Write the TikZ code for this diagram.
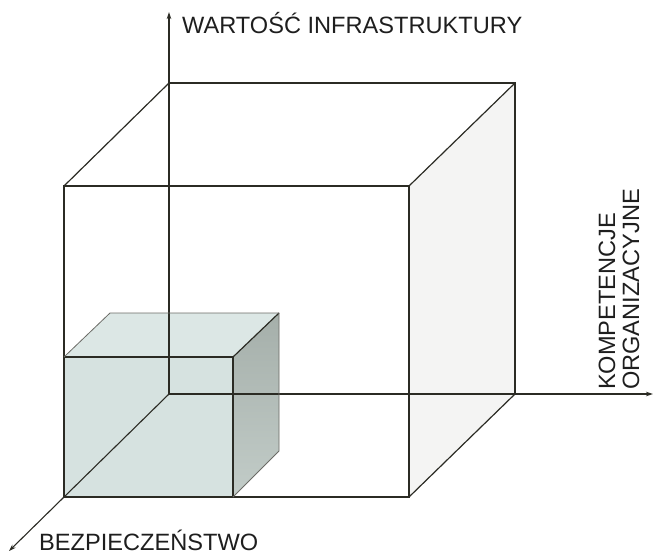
\documentclass[tikz,border=0pt]{standalone}
\usepackage{fontspec}
\setmainfont{Liberation Sans}
\usetikzlibrary{arrows.meta}
\definecolor{inkline}{HTML}{2B2B24}
\definecolor{inktext}{HTML}{1E1E1E}
\definecolor{cubefront}{HTML}{D6E2E0}
\definecolor{cubetop}{HTML}{DCE7E5}
\definecolor{cubesideA}{HTML}{A5AFAA}
\definecolor{cubesideB}{HTML}{C2CCC8}
\definecolor{bigside}{HTML}{F4F4F3}
\tikzset{
  edge/.style={draw=inkline, line width=1.2pt, line join=miter},
  thinedge/.style={draw=inkline!70, line width=0.8pt},
  axis/.style={draw=inkline, line width=1.1pt, -{Stealth[length=7pt,width=4.5pt]}},
  axlabel/.style={inner sep=0pt, text=inktext, font=\fontsize{23.6}{26}\selectfont},
}
\begin{document}
\begin{tikzpicture}[x=1pt, y=-1pt]
\useasboundingbox (0,0) rectangle (654,555);

% origin of the three axes
\coordinate (O) at (169,394);
\coordinate (yend) at (169,12);
\coordinate (xend) at (653,394);
\coordinate (zend) at (9,551);

% large cube: back corners and front corners
\coordinate (Bbl) at (169,394);
\coordinate (Btl) at (169,83);
\coordinate (Btr) at (515,83);
\coordinate (Bbr) at (515,394);
\coordinate (Ftl) at (64,186);
\coordinate (Ftr) at (409,186);
\coordinate (Fbr) at (409,497);
\coordinate (Fbl) at (64,497);

% small cube
\coordinate (sFtl) at (64,357);
\coordinate (sFtr) at (233,357);
\coordinate (sFbr) at (233,497);
\coordinate (sFbl) at (64,497);
\coordinate (sBtl) at (110,313);
\coordinate (sBtr) at (279,313);
\coordinate (sBbr) at (279,451);

% faint right face of the large cube
\fill[bigside] (Ftr) -- (Btr) -- (Bbr) -- (Fbr) -- cycle;

% small cube faces
\fill[cubefront] (sFtl) -- (sFtr) -- (sFbr) -- (sFbl) -- cycle;
\fill[cubetop] (sFtl) -- (sBtl) -- (sBtr) -- (sFtr) -- cycle;
\shade[top color=cubesideA, bottom color=cubesideB] (sFtr) -- (sBtr) -- (sBbr) -- (sFbr) -- cycle;

% axes
\draw[axis] (O) -- (yend);
\draw[axis] (O) -- (xend);
\draw[axis] (O) -- (zend);

% large cube edges
\draw[edge] (Btl) -- (Btr) -- (Bbr);
\draw[edge] (Ftl) -- (Ftr) -- (Fbr) -- (Fbl) -- cycle;
\draw[edge] (Ftl) -- (Btl);
\draw[edge] (Ftr) -- (Btr);
\draw[edge] (Fbr) -- (Bbr);

% small cube edges
\draw[edge] (sFtl) -- (sFtr) -- (sFbr);
\draw[edge] (sFtr) -- (sBtr);
\draw[thinedge] (sFtl) -- (sBtl) -- (sBtr) -- (sBbr) -- (sFbr);

% axis labels
\node[axlabel, anchor=base west] (lblY) at (182,33) {WARTOŚĆ INFRASTRUKTURY};
\node[axlabel, anchor=base west] (lblZ) at (39,550) {BEZPIECZEŃSTWO};
\node[axlabel, anchor=base west, rotate=90] (lblX1) at (615,390) {KOMPETENCJE};
\node[axlabel, anchor=base west, rotate=90] (lblX2) at (639,390) {ORGANIZACYJNE};
\end{tikzpicture}
\end{document}
